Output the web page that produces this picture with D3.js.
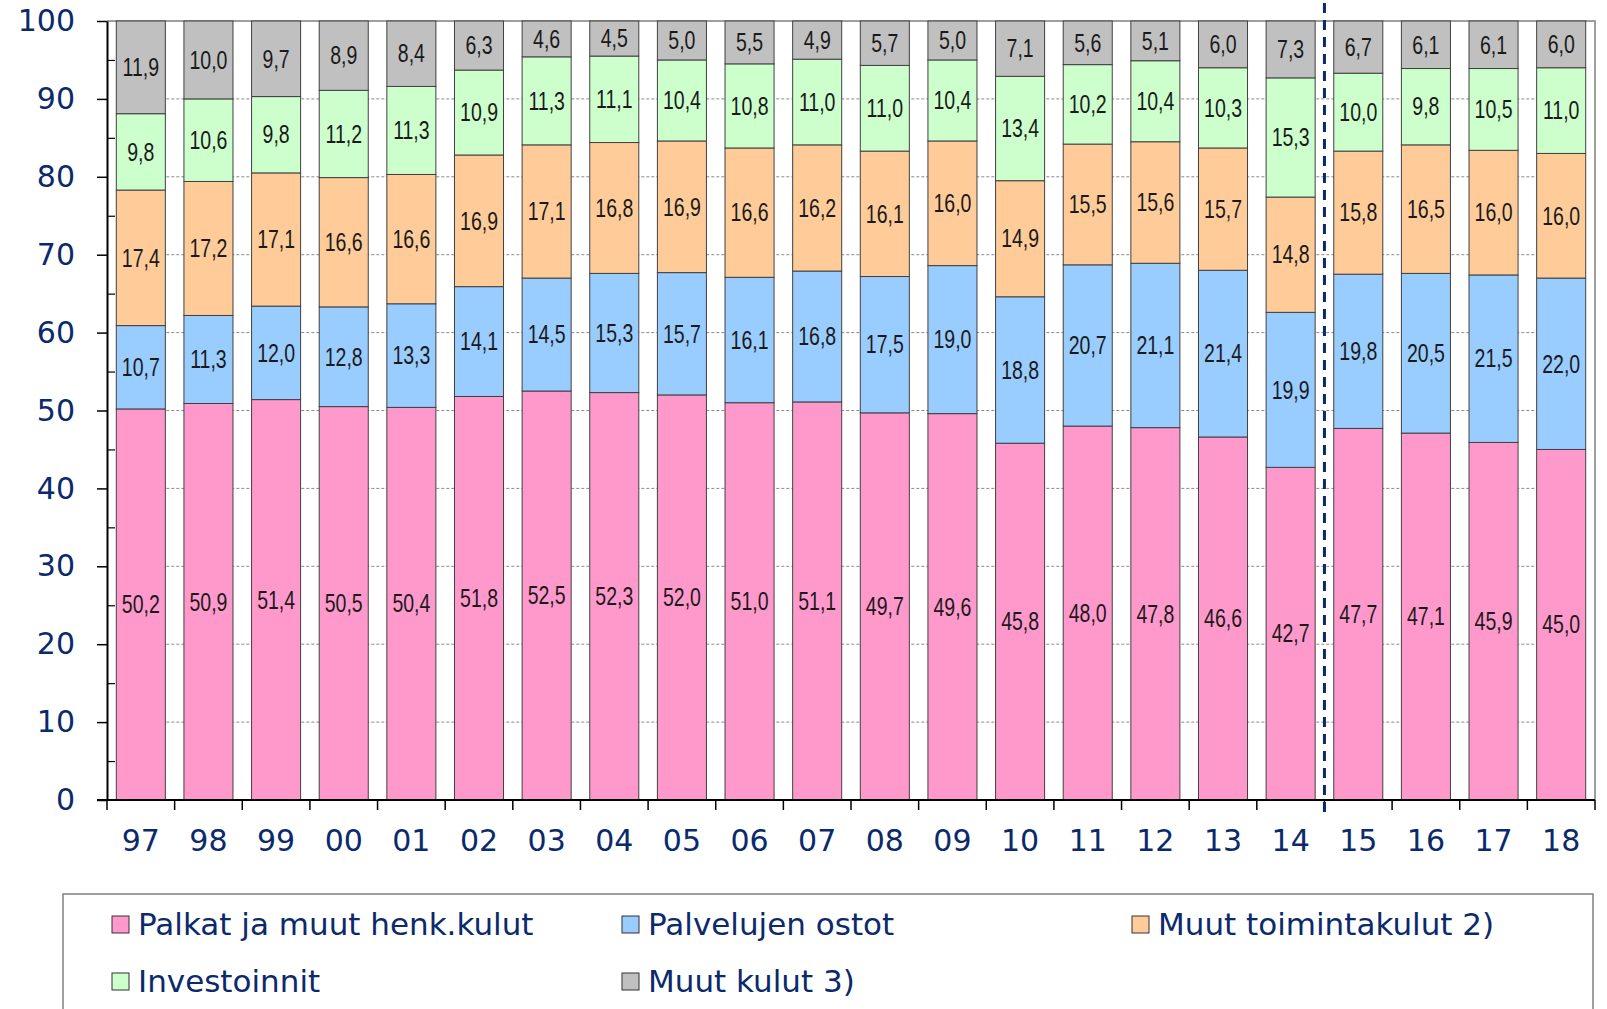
<!DOCTYPE html>
<html>
<head>
<meta charset="utf-8">
<script src="https://cdn.jsdelivr.net/npm/d3@7"></script>
<style>
  body { margin: 0; background: #fff; }
  svg { display: block; }
</style>
</head>
<body>
<div id="chart"></div>
<script>
// years on the x axis
const years = ["97","98","99","00","01","02","03","04","05","06","07","08","09","10","11","12","13","14","15","16","17","18"];

// series, bottom to top (percent shares)
const palkat     = [50.2,50.9,51.4,50.5,50.4,51.8,52.5,52.3,52.0,51.0,51.1,49.7,49.6,45.8,48.0,47.8,46.6,42.7,47.7,47.1,45.9,45.0];
const palvelut   = [10.7,11.3,12.0,12.8,13.3,14.1,14.5,15.3,15.7,16.1,16.8,17.5,19.0,18.8,20.7,21.1,21.4,19.9,19.8,20.5,21.5,22.0];
const muutToim   = [17.4,17.2,17.1,16.6,16.6,16.9,17.1,16.8,16.9,16.6,16.2,16.1,16.0,14.9,15.5,15.6,15.7,14.8,15.8,16.5,16.0,16.0];
const investoinnit = [9.8,10.6,9.8,11.2,11.3,10.9,11.3,11.1,10.4,10.8,11.0,11.0,10.4,13.4,10.2,10.4,10.3,15.3,10.0,9.8,10.5,11.0];
const muutKulut  = [11.9,10.0,9.7,8.9,8.4,6.3,4.6,4.5,5.0,5.5,4.9,5.7,5.0,7.1,5.6,5.1,6.0,7.3,6.7,6.1,6.1,6.0];

const seriesNames = ["Palkat ja muut henk.kulut","Palvelujen ostot","Muut toimintakulut 2)","Investoinnit","Muut kulut 3)"];
const seriesValues = [palkat, palvelut, muutToim, investoinnit, muutKulut];
const colors = ["#ff99cc","#99ccff","#ffcc99","#ccffcc","#c0c0c0"];

const yTicks = [0,10,20,30,40,50,60,70,80,90,100];
const yMinor = [5,15,25,35,45,55,65,75,85,95];

const width = 1607, height = 1009;
const navy = "#0b2a6b";
const plotLeft = 107, plotRight = 1595, plotTop = 21, plotBottom = 800;

const svg = d3.select("#chart").append("svg")
  .attr("width", width)
  .attr("height", height);

const x = d3.scaleBand()
  .domain(years)
  .range([plotLeft, plotRight])
  .paddingInner(0.275)
  .paddingOuter(0.1375);

const y = d3.scaleLinear()
  .domain([0, 100])
  .range([plotBottom, plotTop]);

// rows for stacking
const rows = years.map((yr, i) => {
  const r = { year: yr };
  seriesNames.forEach((s, j) => r[s] = seriesValues[j][i]);
  return r;
});
const stacked = d3.stack().keys(seriesNames)(rows);

// gridlines
const step = x.step();
svg.append("g").selectAll("line")
  .data(yTicks.filter(d => d > 0 && d < 100))
  .enter().append("line")
  .attr("x1", x(years[0]))
  .attr("x2", x(years[years.length - 1]) + x.bandwidth())
  .attr("y1", d => y(d))
  .attr("y2", d => y(d))
  .attr("stroke", "#8a8a8a")
  .attr("stroke-width", 1)
  .attr("stroke-dasharray", "3,2");

// frame top and right
svg.append("path")
  .attr("d", `M${plotLeft},${plotTop}H${plotRight}V${plotBottom}`)
  .attr("fill", "none")
  .attr("stroke", "#808080")
  .attr("stroke-width", 1.5);

// bars
const layers = svg.append("g").selectAll("g")
  .data(stacked)
  .enter().append("g")
  .attr("fill", (d, i) => colors[i]);

layers.selectAll("rect")
  .data(d => d)
  .enter().append("rect")
  .attr("x", d => x(d.data.year))
  .attr("width", x.bandwidth())
  .attr("y", d => y(d[1]))
  .attr("height", d => y(d[0]) - y(d[1]))
  .attr("stroke", "#404040")
  .attr("stroke-width", 1);

// value labels (narrow face, squeezed horizontally)
layers.selectAll("text")
  .data(d => d.map(v => ({ v: v, key: d.key })))
  .enter().append("text")
  .attr("transform", d => `translate(${x(d.v.data.year) + x.bandwidth() / 2},${y((d.v[0] + d.v[1]) / 2)}) scale(0.78,1)`)
  .attr("dy", "0.35em")
  .attr("text-anchor", "middle")
  .attr("fill", "#1a1a1a")
  .style("font-family", "'Liberation Sans',Arial,sans-serif")
  .style("font-size", "25px")
  .text(d => d3.format(".1f")(d.v.data[d.key]).replace(".", ","));

// y axis
const yAxis = svg.append("g")
  .attr("transform", `translate(${plotLeft},0)`)
  .call(d3.axisLeft(y).tickValues(yTicks).tickSize(10).tickPadding(22).tickSizeOuter(0));
yAxis.select(".domain").attr("stroke", "#000").attr("stroke-width", 2);
yAxis.selectAll(".tick line").attr("stroke", "#000").attr("stroke-width", 1.5);
yAxis.selectAll("text")
  .attr("fill", navy)
  .style("font-family", "'DejaVu Sans',Verdana,sans-serif")
  .style("font-size", "30px");

// minor ticks inside
svg.append("g")
  .attr("transform", `translate(${plotLeft},0)`)
  .call(d3.axisRight(y).tickValues(yMinor).tickSize(8).tickFormat(""))
  .call(g => g.select(".domain").remove())
  .selectAll("line").attr("stroke", "#000").attr("stroke-width", 1.2);

// x axis line
svg.append("line")
  .attr("x1", plotLeft - 10).attr("x2", plotRight)
  .attr("y1", plotBottom).attr("y2", plotBottom)
  .attr("stroke", "#000").attr("stroke-width", 2);

// x tick marks at band edges
const edges = years.map(yr => x(yr) - step * x.paddingInner() / 2).concat([plotRight]);
svg.append("g").selectAll("line")
  .data(edges)
  .enter().append("line")
  .attr("x1", d => d).attr("x2", d => d)
  .attr("y1", plotBottom).attr("y2", plotBottom + 10)
  .attr("stroke", "#000").attr("stroke-width", 1.5);

// x labels
const xAxis = svg.append("g")
  .attr("transform", `translate(0,${plotBottom})`)
  .call(d3.axisBottom(x).tickSize(0).tickPadding(30));
xAxis.select(".domain").remove();
xAxis.selectAll("text")
  .attr("fill", navy)
  .style("font-family", "'DejaVu Sans',Verdana,sans-serif")
  .style("font-size", "30px");

// forecast divider between 14 and 15
const divX = x("15") - step * x.paddingInner() / 2;
svg.append("line")
  .attr("x1", divX).attr("x2", divX)
  .attr("y1", 3).attr("y2", 818)
  .attr("stroke", navy)
  .attr("stroke-width", 3)
  .attr("stroke-dasharray", "10,7");

// legend
svg.append("rect")
  .attr("x", 63).attr("y", 894)
  .attr("width", 1530).attr("height", 140)
  .attr("fill", "#fff")
  .attr("stroke", "#808080")
  .attr("stroke-width", 1.5);

const legendPos = [[112, 935], [622, 935], [1132, 935], [112, 992], [622, 992]];
const legend = svg.append("g").selectAll("g")
  .data(seriesNames)
  .enter().append("g")
  .attr("transform", (d, i) => `translate(${legendPos[i][0]},${legendPos[i][1]})`);

legend.append("rect")
  .attr("x", 0).attr("y", -19)
  .attr("width", 17).attr("height", 17)
  .attr("fill", (d, i) => colors[i])
  .attr("stroke", "#333")
  .attr("stroke-width", 1);

legend.append("text")
  .attr("x", 26)
  .attr("y", 0)
  .attr("fill", navy)
  .style("font-family", "'DejaVu Sans',Verdana,sans-serif")
  .style("font-size", "31px")
  .text(d => d);
</script>
</body>
</html>
